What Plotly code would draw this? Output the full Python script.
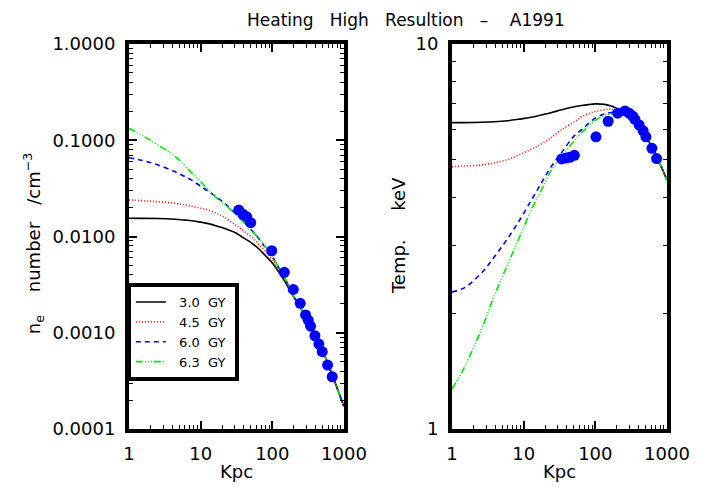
import plotly.graph_objects as go

# ---------------- data ----------------
# left panel: electron density profiles (Kpc, cm^-3)
r_ne = [1, 1.5, 2.5, 4.4, 6, 7.5, 10, 12.8, 17.6, 21.8, 30, 37, 51, 64, 79, 100,
        120, 150, 186, 250, 317, 420, 542, 700, 1000]
ne_30 = [0.01545, 0.01543, 0.0154, 0.0151, 0.0148, 0.0146, 0.0141, 0.0136, 0.0127,
         0.0121, 0.0110, 0.0100, 0.0086, 0.0075, 0.0064, 0.0053, 0.0044, 0.0034,
         0.00255, 0.00180, 0.00130, 0.00087, 0.00057, 0.00035, 0.00017]
ne_45 = [0.0240, 0.0236, 0.0230, 0.0221, 0.0213, 0.0206, 0.0197, 0.0189, 0.0170,
         0.0157, 0.0133, 0.0119, 0.0099, 0.0084, 0.0071, 0.0057, 0.0047, 0.0036,
         0.0026, 0.00181, 0.00130, 0.00087, 0.00057, 0.00035, 0.00017]
ne_60 = [0.0659, 0.0620, 0.0555, 0.0470, 0.0420, 0.0385, 0.0333, 0.0295, 0.0249,
         0.0220, 0.0176, 0.0151, 0.0117, 0.0096, 0.0078, 0.0062, 0.0049, 0.0037,
         0.0026, 0.00181, 0.00130, 0.00087, 0.00057, 0.00035, 0.00017]
ne_63 = [0.133, 0.113, 0.090, 0.0680, 0.0545, 0.0458, 0.0372, 0.0306, 0.0242,
         0.0215, 0.0172, 0.0148, 0.0116, 0.0097, 0.0079, 0.0063, 0.0049, 0.0037,
         0.0026, 0.00181, 0.00130, 0.00087, 0.00057, 0.00035, 0.00017]

# observed density points
r_obs_ne = [34, 39, 44, 50, 98, 147, 196, 245, 291, 317, 342, 393, 446, 497, 590, 685]
ne_obs = [0.0188, 0.0170, 0.0160, 0.0139, 0.00711, 0.00425, 0.00282, 0.00202,
          0.00153, 0.00135, 0.00117, 0.000931, 0.000763, 0.000635, 0.000462, 0.000349]

# right panel: temperature profiles (Kpc, keV)
r_t = [1, 1.5, 2.56, 3.9, 6, 8.8, 12.8, 17.6, 24, 33, 51, 64, 79, 100, 134, 167,
       230, 300, 354, 450, 542, 700, 1000]
t_30 = [6.25, 6.25, 6.26, 6.28, 6.32, 6.38, 6.45, 6.54, 6.63, 6.74, 6.87, 6.92,
        6.96, 6.99, 6.97, 6.90, 6.71, 6.47, 6.29, 5.92, 5.63, 5.15, 4.43]
t_45 = [4.80, 4.82, 4.85, 4.91, 5.01, 5.16, 5.33, 5.50, 5.70, 5.97, 6.28, 6.47,
        6.58, 6.68, 6.75, 6.77, 6.66, 6.47, 6.29, 5.92, 5.63, 5.15, 4.43]
t_60 = [2.27, 2.33, 2.54, 2.80, 3.13, 3.49, 3.93, 4.35, 4.79, 5.19, 5.78, 5.98,
        6.20, 6.42, 6.58, 6.64, 6.63, 6.47, 6.29, 5.92, 5.63, 5.15, 4.43]
t_63 = [1.27, 1.45, 1.81, 2.22, 2.68, 3.16, 3.71, 4.17, 4.68, 5.08, 5.60, 5.87,
        6.10, 6.33, 6.52, 6.58, 6.60, 6.47, 6.29, 5.92, 5.63, 5.15, 4.43]

# observed temperature points
r_obs_t = [34, 39, 44, 51, 102, 151, 205, 259, 297, 331, 357, 409, 465, 508, 616, 716]
t_obs = [5.03, 5.06, 5.08, 5.14, 5.74, 6.30, 6.61, 6.70, 6.61, 6.50, 6.37, 6.16,
         5.95, 5.74, 5.36, 5.04]

labels = ["3.0  GY", "4.5  GY", "6.0  GY", "6.3  GY"]
x_ticks = [1, 10, 100, 1000]
x_ticktext = ["1", "10", "100", "1000"]
ne_ticks = [1e-4, 1e-3, 1e-2, 1e-1, 1]
ne_ticktext = ["0.0001", "0.0010", "0.0100", "0.1000", "1.0000"]
t_ticks = [1, 10]
t_ticktext = ["1", "10"]

# ---------------- styles ----------------
FONT = "DejaVu Sans"
NB = "\u00a0"
styles = [
    dict(color="black", dash="solid", width=1.6),
    dict(color="rgb(255,0,0)", dash="1px,2px", width=1.6),
    dict(color="rgb(0,0,255)", dash="5px,4px", width=1.6),
    dict(color="rgb(0,230,0)", dash="7px,2px,1px,2px,1px,2px,1px,2px", width=1.6),
]

fig = go.Figure()

ne_series = [ne_30, ne_45, ne_60, ne_63]
t_series = [t_30, t_45, t_60, t_63]
for lab, st, ne, tt in zip(labels, styles, ne_series, t_series):
    legend_name = NB * 2 + lab.replace(" ", NB) + NB
    fig.add_trace(go.Scatter(x=r_ne, y=ne, mode="lines", name=legend_name,
                             line=dict(shape="spline", **st),
                             xaxis="x", yaxis="y", showlegend=True))
    fig.add_trace(go.Scatter(x=r_t, y=tt, mode="lines", name=legend_name,
                             line=dict(shape="spline", **st),
                             xaxis="x2", yaxis="y2", showlegend=False))

fig.add_trace(go.Scatter(x=r_obs_ne, y=ne_obs, mode="markers", showlegend=False,
                         marker=dict(color="rgb(0,0,255)", size=11, line=dict(width=0)),
                         xaxis="x", yaxis="y"))
fig.add_trace(go.Scatter(x=r_obs_t, y=t_obs, mode="markers", showlegend=False,
                         marker=dict(color="rgb(0,0,255)", size=11, line=dict(width=0)),
                         xaxis="x2", yaxis="y2"))

minor_x = [m * d for d in (1, 10, 100) for m in range(2, 10)]
minor_ne = [m * d for d in (1e-4, 1e-3, 1e-2, 1e-1) for m in range(2, 10)]
minor_t = [m for m in range(2, 10)]

def axis_common():
    return dict(type="log", showgrid=False, zeroline=False, showline=True, linecolor="black",
                linewidth=4, mirror="allticks", ticks="inside", ticklen=8, tickwidth=1.5,
                tickcolor="black", tickfont=dict(family=FONT, size=18, color="black"))

xa = axis_common()
xa.update(range=[0, 3], tickvals=x_ticks, ticktext=x_ticktext, ticklabelstandoff=5,
          minor=dict(tickmode="array", tickvals=minor_x, ticks="inside", ticklen=4,
                     tickwidth=1, tickcolor="black"),
          title=dict(text="Kpc", font=dict(family=FONT, size=18, color="black"), standoff=4))
xa2 = dict(xa)
xa.update(domain=[0, 0.3996], anchor="y")
xa2.update(domain=[0.6004, 1], anchor="y2")

ya = axis_common()
ya.update(range=[-4, 0], tickvals=ne_ticks, ticktext=ne_ticktext, ticklabelstandoff=6,
          minor=dict(tickmode="array", tickvals=minor_ne, ticks="inside", ticklen=4,
                     tickwidth=1, tickcolor="black"),
          domain=[0, 1], anchor="x")
ya2 = axis_common()
ya2.update(range=[0, 1], tickvals=t_ticks, ticktext=t_ticktext, ticklabelstandoff=6,
           minor=dict(tickmode="array", tickvals=minor_t, ticks="inside", ticklen=4,
                      tickwidth=1, tickcolor="black"),
           domain=[0, 1], anchor="x2")

fig.update_layout(
    width=710, height=487,
    margin=dict(l=121, r=51, t=36, b=66),
    paper_bgcolor="white", plot_bgcolor="white",
    xaxis=xa, yaxis=ya, xaxis2=xa2, yaxis2=ya2,
    showlegend=True,
    legend=dict(x=-0.004, y=0.252, xanchor="left", yanchor="middle",
                bgcolor="white", bordercolor="black", borderwidth=4,
                font=dict(family=FONT, size=13, color="black"),
                tracegroupgap=0, itemwidth=30),
    annotations=[
        dict(text="Heating" + NB * 2 + " High" + NB * 2 + " Resultion" + NB * 2 + " \u2013" + NB * 3 + " A1991",
             xref="paper", yref="paper", x=0.515, y=1.062, xanchor="center", yanchor="middle",
             showarrow=False, font=dict(family=FONT, size=17, color="black")),
        dict(text="n<sub>e</sub>" + NB * 3 + " number" + NB * 2 + " /cm<sup>\u22123</sup>",
             xref="paper", yref="paper", x=-0.178, y=0.483, xanchor="center", yanchor="middle",
             textangle=-90, showarrow=False, font=dict(family=FONT, size=18, color="black")),
        dict(text="Temp." + NB * 4 + " keV",
             xref="paper", yref="paper", x=0.5, y=0.501, xanchor="center", yanchor="middle",
             textangle=-90, showarrow=False, font=dict(family=FONT, size=18, color="black")),
    ],
)

fig.write_html("out.html")
